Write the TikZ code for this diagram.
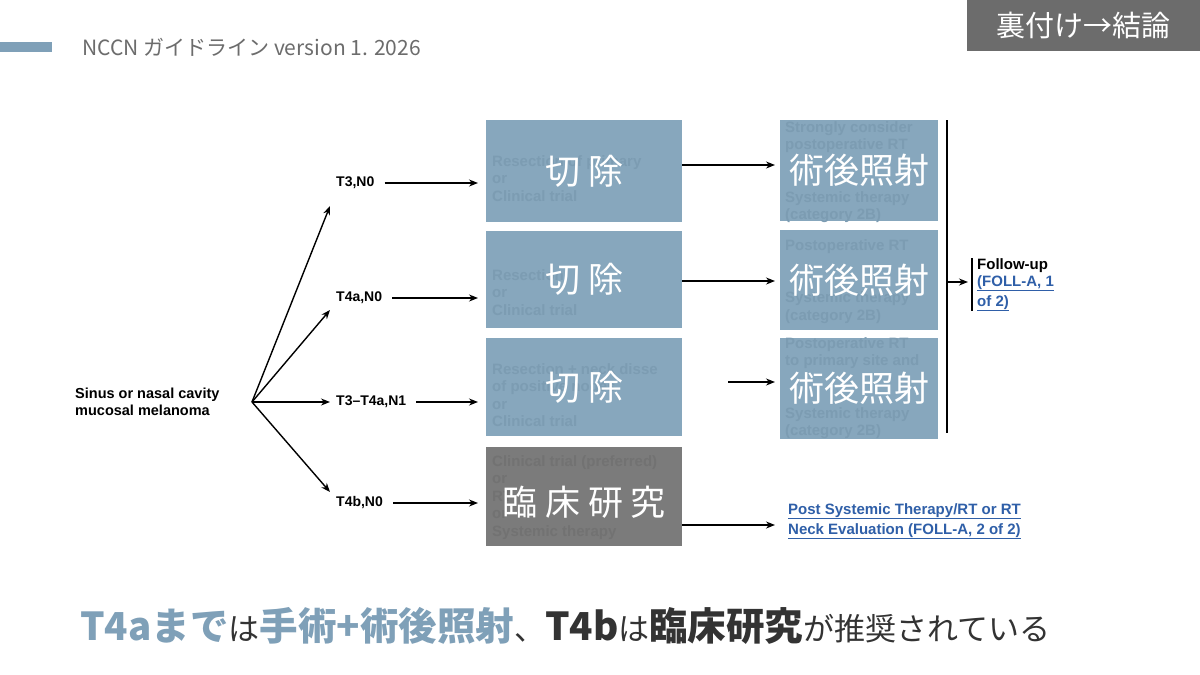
\documentclass[tikz,border=0pt]{standalone}
\usepackage{fontspec}
\setmainfont{Liberation Sans}
\newfontfamily\jp{Noto Sans CJK JP}
\newfontfamily\ar{Liberation Sans}
\definecolor{boxc}{HTML}{87A7BD}
\definecolor{boxd}{HTML}{7C9CB2}
\definecolor{gboxc}{HTML}{7B7B7B}
\definecolor{gboxd}{HTML}{727272}
\definecolor{accent}{HTML}{7FA0B8}
\definecolor{dark}{HTML}{333333}
\definecolor{lnk}{HTML}{2F5FA8}
\usetikzlibrary{arrows.meta}
\begin{document}
\begin{tikzpicture}[x=1pt,y=-1pt,
  arr/.style={-{Stealth[length=9pt,width=7pt]},line width=1.4pt},
  lab/.style={font=\ar\bfseries\fontsize{14}{16}\selectfont,anchor=west,inner sep=0},
  box/.style={fill=boxc,draw=none,inner sep=0,anchor=north west},
  big/.style={font=\jp\fontsize{35}{38}\selectfont,text=white},
  faint/.style={font=\ar\bfseries\fontsize{15}{17.5}\selectfont,text=boxd,anchor=north west,align=left,inner sep=0},
  link/.style={font=\ar\bfseries\fontsize{15}{20}\selectfont,text=lnk,anchor=north west,inner sep=0,align=left}]
\useasboundingbox (0,0) rectangle (1200,675);
\fill[white] (0,0) rectangle (1200,675);
% header
\fill[accent] (0,42) rectangle (52,52);
\node[anchor=west,inner sep=0,text=gray!85!black,font=\jp\fontsize{21}{24}\selectfont] (title) at (82,47) {NCCN ガイドライン version 1. 2026};
\node[anchor=north east,fill=gray!85!black,text=white,minimum width=233,minimum height=51,inner sep=0,font=\jp\fontsize{29}{32}\selectfont] (tag) at (1200,0) {裏付け→結論};
% origin
\node[anchor=west,inner sep=0,align=left,font=\ar\bfseries\fontsize{14.5}{17}\selectfont] (root) at (75,402) {Sinus or nasal cavity\\mucosal melanoma};
\coordinate (o) at (252,402);
\node[lab] (l1) at (336,183) {T3,N0};
\node[lab] (l2) at (336,298) {T4a,N0};
\node[lab] (l3) at (336,402) {T3–T4a,N1};
\node[lab] (l4) at (336,503) {T4b,N0};
\draw[arr] (o) -- (330,206);
\draw[arr] (o) -- (330,310);
\draw[arr] (o) -- (330,402);
\draw[arr] (o) -- (330,492);
\coordinate (a1) at (478,183); \coordinate (a2) at (478,298); \coordinate (a3) at (478,402); \coordinate (a4) at (478,503);
\draw[arr] (l1.east)++(10,0) -- (a1);
\draw[arr] (l2.east)++(10,0) -- (a2);
\draw[arr] (l3.east)++(10,0) -- (a3);
\draw[arr] (l4.east)++(10,0) -- (a4);
% column 1
\node[box,minimum width=196,minimum height=102] (b1) at (486,120) {};
\node[box,minimum width=196,minimum height=97] (b2) at (486,231) {};
\node[box,minimum width=196,minimum height=98] (b3) at (486,338) {};
\node[box,fill=gboxc,minimum width=196,minimum height=99] (b4) at (486,447) {};
\begin{scope}
\clip (486,120) rectangle (682,546);
\node[faint] at (492,155) {Resection of primary\\or\\Clinical trial};
\node[faint] at (492,269) {Resection\\or\\Clinical trial};
\node[faint] at (492,363) {Resection + neck disse\\of positive nodes\\or\\Clinical trial};
\node[faint,text=gboxd] at (492,455) {Clinical trial (preferred)\\or\\RT\\or\\Systemic therapy};
\end{scope}
\node[big] at (b1.center) {切 除};
\node[big] at (b2.center) {切 除};
\node[big] at (b3.center) {切 除};
\node[big] at ([yshift=-6]b4.center) {臨 床 研 究};
% column 2
\node[box,minimum width=158,minimum height=101] (c1) at (780,120) {};
\node[box,minimum width=158,minimum height=100] (c2) at (780,230) {};
\node[box,minimum width=158,minimum height=101] (c3) at (780,338) {};
\begin{scope}
\clip (780,120) rectangle (938,439);
\node[faint] at (785,121) {Strongly consider\\postoperative RT\\\\\\Systemic therapy\\(category 2B)};
\node[faint] at (785,239) {Postoperative RT\\\\\\Systemic therapy\\(category 2B)};
\node[faint] at (785,337) {Postoperative RT\\to primary site and\\\\\\Systemic therapy\\(category 2B)};
\end{scope}
\node[big] at (c1.center) {術後照射};
\node[big] at (c2.center) {術後照射};
\node[big] at (c3.center) {術後照射};
\draw[arr] (b1.east|-0,165) -- (775,165);
\draw[arr] (b2.east|-0,281) -- (775,281);
\draw[arr] (728,382) -- (775,382);
\draw[arr] (b4.east|-0,525) -- (775,525);
% follow-up
\draw[line width=1.8pt] (947,120) -- (947,433);
\draw[arr] (947,282) -- (968,282);
\draw[line width=1.2pt] (972,258) -- (972,311);
\node[lab,font=\ar\bfseries\fontsize{15}{17}\selectfont] (fu) at (977,266) {Follow-up};
\node[link] (f1) at (977,275) {\underline{(FOLL-A, 1}\\\underline{of 2)}};
\node[link] (f2) at (788,503) {\underline{Post Systemic Therapy/RT or RT}\\\underline{Neck Evaluation (FOLL-A, 2 of 2)}};
% caption
\node[anchor=west,inner sep=0] (cap) at (80,626) {%
{\jp\bfseries\color{accent}\fontsize{38.5}{42}\selectfont T4aまで}%
{\jp\color{dark}\fontsize{31}{42}\selectfont は}%
{\jp\bfseries\color{accent}\fontsize{38.5}{42}\selectfont 手術+術後照射}%
{\jp\color{dark}\fontsize{31}{42}\selectfont 、}%
{\jp\bfseries\color{dark}\fontsize{38.5}{42}\selectfont T4b}%
{\jp\color{dark}\fontsize{31}{42}\selectfont は}%
{\jp\bfseries\color{dark}\fontsize{38.5}{42}\selectfont 臨床研究}%
{\jp\color{dark}\fontsize{31}{42}\selectfont が推奨されている}};
\end{tikzpicture}
\end{document}
